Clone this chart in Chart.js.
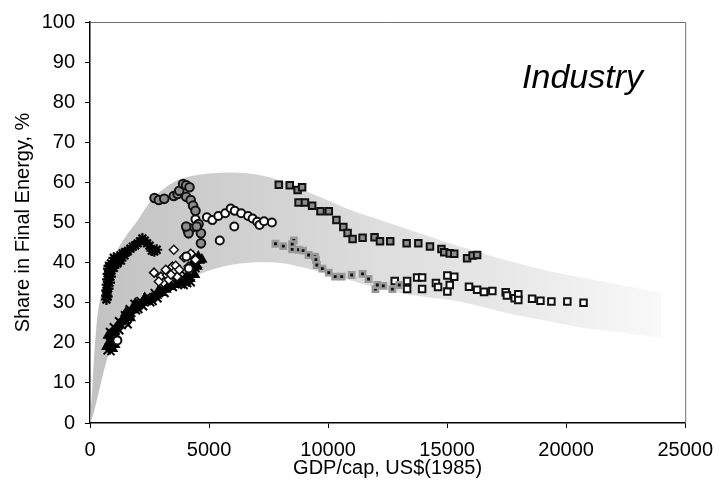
<!DOCTYPE html>
<html>
<head>
<meta charset="utf-8">
<script src="https://cdn.jsdelivr.net/npm/chart.js@4.4.1/dist/chart.umd.min.js"></script>
<style>
  html, body { margin: 0; padding: 0; background: #fff; }
  #wrap { width: 723px; height: 488px; }
</style>
</head>
<body>
<div id="wrap"><canvas id="myChart" width="723" height="488"></canvas></div>
<script>
// envelope of the shaded band (x, upper %, lower %)
const bandX     = [0, 100, 200, 300, 500, 700, 1000, 1500, 2000, 2500, 3000, 3500, 4000, 5000, 6000, 7000, 8000, 9000, 10000, 11000, 12000, 13000, 14000, 15000, 16000, 17000, 18000, 19000, 20000, 21000, 22000, 23000, 24000];
const bandUpper = [0, 9, 19, 26, 33, 37, 41.5, 46.5, 50.5, 55, 58, 60, 61.2, 62.2, 62.5, 62, 60.5, 58, 55.5, 53, 51, 49, 47, 45, 43.2, 41.4, 39.8, 38.3, 37, 35.9, 34.8, 33.6, 32.4];
const bandLower = [0, 1.5, 3.5, 6, 11, 15.5, 20, 24.5, 27.3, 30, 32, 34, 35.5, 38, 39.5, 40.1, 39.9, 38.7, 37.2, 35.5, 33.8, 32.5, 31.5, 30.8, 29.7, 28.2, 26.8, 25.7, 24.5, 23.5, 22.8, 22, 21.3];

// country series [GDP/cap, share %]
const upperSquares = [[7930,59.4],[8390,59.3],[8720,58.1],[8910,58.8],[8760,55.0],[9030,55.0],[9330,54.2],[9680,52.8],[10030,52.8],[10350,50.6],[10640,48.9],[10820,47.4],[11030,45.9],[11450,46.2],[11950,46.3],[12180,45.3],[12610,45.3],[13300,44.8],[13790,44.8],[14280,44.0],[14760,43.4],[14880,42.6],[15110,42.3],[15300,42.2],[15840,41.1],[16070,41.8],[16260,41.9]];
const dotSquares = [[7790,44.7],[8120,44.1],[8490,43.3],[8560,45.5],[8490,44.6],[8760,43.2],[8950,43.0],[9180,41.9],[9450,41.5],[9490,40.7],[9530,39.4],[9760,38.5],[10030,37.5],[10300,36.5],[10570,36.5],[10990,36.9],[11450,37.2],[11700,35.9],[11990,33.4],[12070,34.4],[12320,34.2],[12700,33.4],[12990,34.4]];
const openSquares = [[12800,35.4],[13320,35.4],[13320,33.4],[13740,36.3],[13950,36.3],[13950,33.4],[14530,34.9],[14620,33.9],[15010,36.8],[15010,32.8],[15110,34.4],[15300,36.5],[15920,34.0],[16260,33.2],[16550,32.7],[16900,32.9],[17460,32.6],[17510,31.8],[17840,31.1],[17990,32.1],[17990,30.7],[18570,31.0],[18920,30.5],[19380,30.3],[20050,30.3],[20730,30.0]];
const greyCircles = [[2710,56.1],[2890,55.6],[3120,55.9],[3520,56.6],[3680,57.1],[3750,57.9],[3910,59.6],[4040,59.3],[4180,58.8],[4040,56.4],[4230,55.6],[4330,54.2],[4430,52.9],[4560,49.6],[4660,47.3],[4660,44.8],[4100,48.1],[4230,48.5],[4140,47.3],[4040,49.0],[4480,49.0]];
const openCircles = [[4430,50.8],[4910,51.3],[5140,50.6],[5390,51.6],[5680,52.3],[5910,53.5],[6080,52.9],[6350,52.3],[6640,51.6],[6830,51.0],[7020,50.2],[7120,49.4],[7310,50.3],[7640,50.0],[6060,49.0],[5450,45.5],[4050,41.5],[4150,38.5],[1150,20.6]];
const stars = [[690,30.8],[700,31.8],[700,33],[720,34.5],[740,35.8],[760,37.2],[780,38.5],[800,39.2],[830,37.5],[860,36.5],[900,38],[950,39.5],[1000,38.7],[1050,40],[1120,40.8],[1200,41.2],[1280,41.8],[1380,42.3],[1480,42.6],[1580,42.8],[1700,43.5],[1800,44],[1900,44.3],[2000,44.8],[2100,45.3],[2200,46],[2300,45.5],[2400,44.8],[2500,44.2],[2600,43],[2700,42.8],[2800,43.2],
               [720,31.5],[760,33.5],[820,35],[880,39.8],[1000,41.2],[1150,39.8],[1300,40.5],[1450,41.8]];
const diamonds = [[3520,43.2],[2690,37.5],[2980,36.5],[3080,35.0],[3230,36.9],[3370,38.3],[3460,39.0],[3560,37.8],[3180,38.2],[3660,36.5],[3310,35.7],[3950,41.3],[4140,39.0],[4230,42.2],[4430,40.7],[2890,35.3],[3400,37],[3600,39.2],[3750,38.2]];
const triangles = [[700,19],[800,20],[900,21],[1000,22.5],[1100,23.5],[1200,24.5],[1400,26],[1600,27.3],[1800,28.3],[2000,29.2],[2200,30],[2400,30.5],[2600,31.2],[2800,31.8],[3000,32.5],[3200,33.3],[3400,34],[3600,34.5],[3800,35],[4000,35.5],[4200,36],[4400,37],[4500,39],[4600,40.5],[4700,40.8],[4350,41.5],
                   [760,21.8],[950,18.5],[1050,19.5],[1300,25.2],[1500,27.5],[1700,26.2],[1900,29.8],[2300,31.2],[2900,33.2],[3300,35.2],[3700,36],[4100,36.8],[4300,39.8],[4550,41.5]];
const crosses = [[720,18],[780,20.5],[880,17.8],[930,22.5],[1020,20],[1100,21.5],[1200,25.5],[1350,24.3],[1450,27],[1550,25.5],[1650,28.5],[1750,27.3],[1850,29.8],[1950,28],[2100,30.5],[2250,29],[2400,31.5],[2550,30],[2700,32.5],[2850,31],[3000,33.5],[3150,32.3],[3350,35.3],[3500,33.8],[3700,36],[3850,34.5],[4000,37],[4100,34.8],[4250,35],[4350,37.5],[4450,38.5],[4550,39.5],
                 [820,22.8],[980,24],[1250,23],[1600,24.5],[2050,28.3],[2650,30.3],[3250,34.5],[3950,34.3]];

const toXY = arr => arr.map(p => ({ x: p[0], y: p[1] }));

function bandGradient(context) {
    const chart = context.chart;
    if (!chart.chartArea) return '#d0d0d0';
    const xs = chart.scales.x;
    const g = chart.ctx.createLinearGradient(xs.getPixelForValue(0), 0, xs.getPixelForValue(24000), 0);
    g.addColorStop(0, '#c2c2c2');
    g.addColorStop(0.25, '#cfcfcf');
    g.addColorStop(0.5, '#dddddd');
    g.addColorStop(0.75, '#e9e9e9');
    g.addColorStop(1, '#f9f9f9');
    return g;
}

const pointSet = (data, style, radius, fill, stroke, width) => ({
    data: toXY(data),
    pointStyle: style,
    pointRadius: radius,
    pointBackgroundColor: fill,
    pointBorderColor: stroke,
    pointBorderWidth: width,
    order: 1
});

const data = {
    datasets: [
        {
            type: 'line',
            data: bandX.map((x, i) => ({ x: x, y: bandUpper[i] })),
            borderWidth: 0,
            pointRadius: 0,
            cubicInterpolationMode: 'monotone',
            fill: '+1',
            backgroundColor: bandGradient,
            order: 10
        },
        {
            type: 'line',
            data: bandX.map((x, i) => ({ x: x, y: bandLower[i] })),
            borderWidth: 0,
            pointRadius: 0,
            cubicInterpolationMode: 'monotone',
            fill: false,
            order: 10
        },
        pointSet(upperSquares, 'rect', 4.6, '#8c8c8c', '#111', 2),
        pointSet(dotSquares, 'rect', 3.8, '#111', '#9a9a9a', 2.5),
        pointSet(openSquares, 'rect', 4.6, '#fff', '#111', 2),
        pointSet(greyCircles, 'circle', 4.3, '#8c8c8c', '#111', 2),
        pointSet(openCircles, 'circle', 4, '#fff', '#111', 2),
        pointSet(diamonds, 'rectRot', 4.5, '#fff', '#111', 1.5),
        pointSet(stars, 'star', 5.5, '#000', '#000', 2.2),
        pointSet(triangles, 'triangle', 5, '#000', '#000', 1.5),
        pointSet(crosses, 'crossRot', 5, '#000', '#000', 2)
    ]
};

const tickFont = { family: "'Liberation Sans', Arial, sans-serif", size: 20 };

const scales = {
    x: {
        type: 'linear',
        min: 0,
        max: 25000,
        afterFit(scale) { scale.height = 65; },
        ticks: {
            stepSize: 5000,
            color: '#000',
            font: tickFont,
            padding: 10,
            maxRotation: 0,
            callback: v => String(v)
        },
        grid: { display: true, drawOnChartArea: false, drawTicks: true, tickLength: 5, color: '#000' },
        border: { display: true, color: '#000', width: 1.5 },
        title: {
            display: true,
            text: 'GDP/cap, US$(1985)',
            color: '#000',
            font: tickFont,
            padding: { top: 0, bottom: 8 }
        }
    },
    y: {
        type: 'linear',
        min: 0,
        max: 100,
        afterFit(scale) { scale.width = 90; },
        ticks: {
            stepSize: 10,
            color: '#000',
            font: tickFont,
            padding: 10
        },
        grid: { display: true, drawOnChartArea: false, drawTicks: true, tickLength: 5, color: '#000' },
        border: { display: true, color: '#000', width: 1.5 },
        title: {
            display: true,
            text: 'Share in Final Energy, %',
            color: '#000',
            font: tickFont,
            padding: { top: 11, bottom: 0 }
        }
    }
};

// grey frame on top/right and the sector label
const framePlugin = {
    id: 'frame',
    afterDraw(chart) {
        const { ctx, chartArea: a } = chart;
        ctx.save();
        ctx.strokeStyle = '#6e6e6e';
        ctx.lineWidth = 1;
        ctx.beginPath();
        ctx.moveTo(a.left, a.top + 0.5);
        ctx.lineTo(a.right + 0.5, a.top + 0.5);
        ctx.lineTo(a.right + 0.5, a.bottom);
        ctx.stroke();
        ctx.fillStyle = '#000';
        ctx.font = "italic 34px 'Liberation Sans', Arial, sans-serif";
        ctx.textAlign = 'right';
        ctx.textBaseline = 'alphabetic';
        ctx.fillText('Industry', 643, 88);
        ctx.restore();
    }
};

const config = {
    type: 'scatter',
    data,
    options: {
        responsive: false,
        animation: false,
        layout: { padding: { top: 22, right: 34, left: 0, bottom: 0 } },
        scales: scales,
        plugins: {
            legend: { display: false },
            tooltip: { enabled: false }
        }
    },
    plugins: [framePlugin]
};

const myChart = new Chart(document.getElementById('myChart'), config);
</script>
</body>
</html>
